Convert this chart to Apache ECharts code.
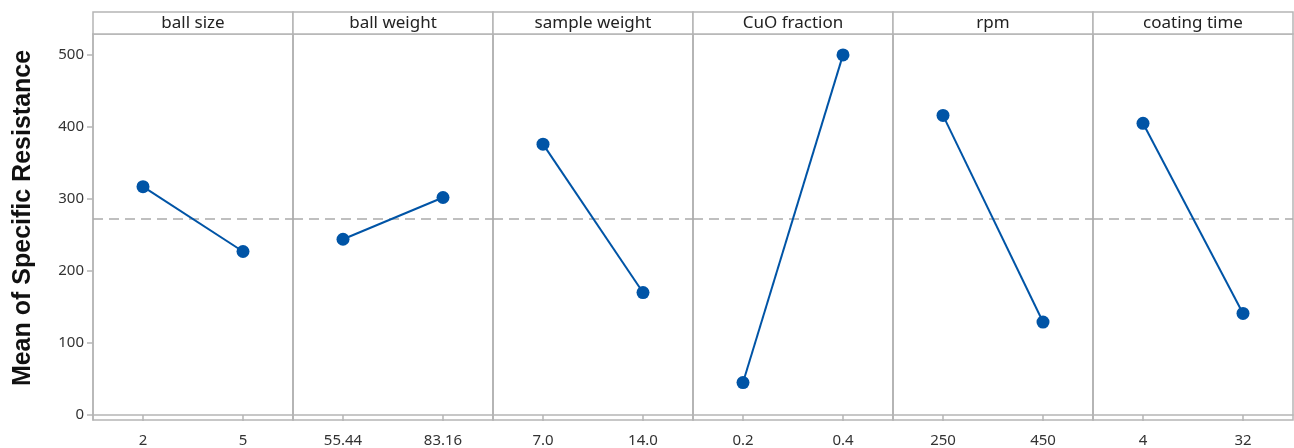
<!DOCTYPE html>
<html>
<head>
<meta charset="utf-8">
<script src="https://cdn.jsdelivr.net/npm/echarts@6/dist/echarts.min.js"></script>
<style>
html,body{margin:0;padding:0;background:#fff;}
#chart{width:1294px;height:448px;}
</style>
</head>
<body>
<div id="chart"></div>
<script>
// ---- data ----
const factors = ['ball size', 'ball weight', 'sample weight', 'CuO fraction', 'rpm', 'coating time'];
const levelLabels = [['2', '5'], ['55.44', '83.16'], ['7.0', '14.0'], ['0.2', '0.4'], ['250', '450'], ['4', '32']];
const meanValues = [[317, 227], [244, 302], [376, 170], [45, 500], [416, 129], [405, 141]];
const overallMean = 273;
const yTickValues = [0, 100, 200, 300, 400, 500];
const yTitle = 'Mean of Specific Resistance';

// ---- layout ----
const L = 93, W = 200, TOP = 34, BOTTOM = 420, HEAD_TOP = 12;
const frameColor = '#b5b5b5';
const blue = '#0054a6';
const font = '"Noto Sans", "Open Sans", sans-serif';

const grids = [], xAxes = [], yAxes = [], series = [], graphics = [];
factors.forEach((f, i) => {
  grids.push({
    left: L + i * W, width: W, top: TOP, height: BOTTOM - TOP,
    show: true, borderColor: frameColor, borderWidth: 1.5, containLabel: false
  });
  xAxes.push({
    type: 'category', gridIndex: i, data: levelLabels[i], boundaryGap: true,
    axisLine: { show: true, lineStyle: { color: frameColor, width: 1.5 } },
    axisTick: { show: true, alignWithLabel: true, length: 6, lineStyle: { color: frameColor, width: 1.5 } },
    axisLabel: { show: true, color: '#333', fontSize: 15, fontFamily: font, margin: 13 },
    splitLine: { show: false }
  });
  yAxes.push({
    type: 'value', gridIndex: i, min: -7, max: 529,
    axisLine: { show: true, lineStyle: { color: frameColor, width: 1.5 } },
    axisTick: { show: i === 0, length: 6, customValues: yTickValues, lineStyle: { color: frameColor, width: 1.5 } },
    axisLabel: { show: i === 0, customValues: yTickValues, color: '#333', fontSize: 15, fontFamily: font, margin: 9 },
    splitLine: { show: false }
  });
  series.push({
    type: 'line', xAxisIndex: i, yAxisIndex: i, data: meanValues[i],
    symbol: 'circle', symbolSize: 13,
    lineStyle: { color: blue, width: 2 },
    itemStyle: { color: blue },
    z: 3,
    markLine: {
      silent: true, symbol: 'none', label: { show: false },
      lineStyle: { color: '#ababab', type: [10, 6], width: 1.5 },
      data: [{ yAxis: overallMean }], z: 1
    }
  });
  graphics.push({
    type: 'rect',
    shape: { x: L + i * W, y: HEAD_TOP, width: W, height: TOP - HEAD_TOP },
    style: { fill: '#fff', stroke: frameColor, lineWidth: 1.5 },
    textContent: { style: { text: f, fill: '#222', fontSize: 17, fontFamily: font } },
    textConfig: { position: 'inside' }
  });
});

graphics.push({
  type: 'text', x: 23, y: 218, rotation: Math.PI / 2,
  style: { text: yTitle, fill: '#111', fontSize: 25, fontWeight: 'bold', fontFamily: '"Liberation Sans", Arial, sans-serif', align: 'center', verticalAlign: 'middle' }
});

const chart = echarts.init(document.getElementById('chart'), null, { renderer: 'canvas' });
chart.setOption({
  animation: false,
  backgroundColor: '#fff',
  grid: grids, xAxis: xAxes, yAxis: yAxes, series: series,
  graphic: graphics
});
</script>
</body>
</html>
